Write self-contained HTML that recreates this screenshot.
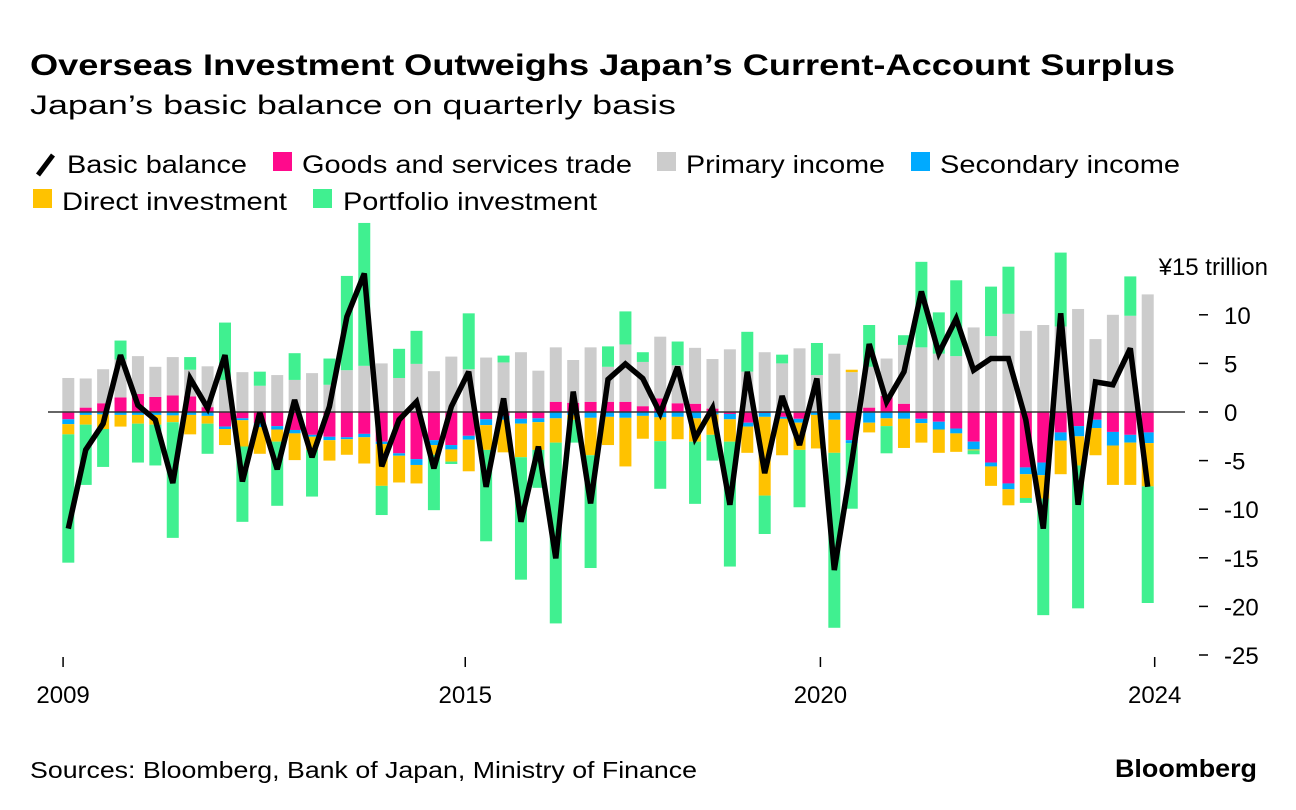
<!DOCTYPE html>
<html><head><meta charset="utf-8">
<style>
html,body{margin:0;padding:0;background:#fff;}
svg{display:block;font-family:"Liberation Sans",sans-serif;}
</style></head>
<body>
<svg id="chart" width="1296" height="810" viewBox="0 0 1296 810" xmlns="http://www.w3.org/2000/svg">
<text x="30" y="75" font-size="30" font-weight="bold" textLength="1145" lengthAdjust="spacingAndGlyphs">Overseas Investment Outweighs Japan’s Current-Account Surplus</text>
<text x="30" y="114" font-size="27" textLength="646" lengthAdjust="spacingAndGlyphs">Japan’s basic balance on quarterly basis</text>
<g font-size="25">
 <g><line x1="38" y1="175" x2="53" y2="155" stroke="#000" stroke-width="5"/><text x="67" y="173" textLength="180" lengthAdjust="spacingAndGlyphs">Basic balance</text></g>
 <g><rect x="273" y="152" width="19" height="19" fill="#ff0a8c"/><text x="302" y="173" textLength="330" lengthAdjust="spacingAndGlyphs">Goods and services trade</text></g>
 <g><rect x="657" y="152" width="19" height="19" fill="#cccccc"/><text x="686" y="173" textLength="199" lengthAdjust="spacingAndGlyphs">Primary income</text></g>
 <g><rect x="911" y="152" width="19" height="19" fill="#00aaff"/><text x="940" y="173" textLength="240" lengthAdjust="spacingAndGlyphs">Secondary income</text></g>
 <g><rect x="33" y="189" width="19" height="19" fill="#ffc200"/><text x="62" y="210" textLength="225" lengthAdjust="spacingAndGlyphs">Direct investment</text></g>
 <g><rect x="313" y="189" width="19" height="19" fill="#40f090"/><text x="343" y="210" textLength="254" lengthAdjust="spacingAndGlyphs">Portfolio investment</text></g>
</g>
<g id="bars"></g>
<g id="axes"></g>
<g id="lineg"></g>
<text x="30" y="778" font-size="23" textLength="667" lengthAdjust="spacingAndGlyphs">Sources: Bloomberg, Bank of Japan, Ministry of Finance</text>
<text x="1115" y="777" font-size="25" font-weight="bold" textLength="142" lengthAdjust="spacingAndGlyphs">Bloomberg</text>
</svg>
<script>
const goods = [-0.75,0.45,0.9,1.5,1.85,1.55,1.7,1.6,0.5,-1.5,-0.65,-1.15,-1.45,-1.85,-2.35,-2.55,-2.6,-2.25,-3.05,-4.25,-4.85,-2.9,-3.4,-2.45,-0.75,-0.4,-0.7,-0.65,1.05,0.95,1.05,1.05,1.05,0.6,1.4,0.9,0.85,0.35,-0.2,-1.1,-0.1,-0.5,-0.7,0,-0.05,-2.9,0.45,1.65,0.85,-0.7,-1.0,-1.7,-3.05,-5.2,-7.35,-5.7,-5.2,-2.1,-1.45,-0.8,-2.05,-2.35,-2.1];
const primary = [3.5,3.0,3.5,3.9,3.9,3.1,3.95,2.75,4.2,3.3,4.1,2.7,3.8,3.3,4.0,2.8,4.3,4.75,5.0,3.5,4.95,4.2,5.7,4.4,5.6,5.1,6.15,4.25,5.6,4.4,5.6,3.6,5.9,4.55,6.35,3.9,5.75,5.1,6.45,4.15,6.15,5.0,6.55,3.8,6.0,4.1,4.2,3.85,6.05,6.65,6.0,5.75,8.7,7.8,10.1,8.35,8.95,8.8,10.6,7.5,10.0,9.9,12.1];
const secondary = [-0.5,-0.3,-0.25,-0.3,-0.3,-0.3,-0.35,-0.3,-0.4,-0.25,-0.2,-0.4,-0.35,-0.35,-0.2,-0.35,-0.2,-0.35,-0.25,-0.25,-0.6,-0.5,-0.45,-0.4,-0.6,-0.4,-0.5,-0.4,-0.65,-0.3,-0.6,-0.5,-0.6,-0.4,-0.55,-0.5,-0.65,-0.25,-0.55,-0.4,-0.4,-0.2,-0.4,-0.3,-0.75,-0.3,-1.1,-0.65,-0.7,-0.45,-0.8,-0.5,-0.8,-0.4,-0.6,-0.7,-1.3,-0.85,-1.05,-0.85,-1.4,-0.8,-1.1];
const direct = [-1.05,-1.0,-1.5,-1.2,-0.9,-1.0,-0.7,-2.0,-0.8,-1.65,-2.7,-2.75,-1.25,-2.75,-1.35,-2.1,-1.6,-2.7,-4.3,-2.75,-1.9,-1.0,-1.25,-3.25,-2.55,-3.35,-3.45,-2.85,-2.5,-0.5,-3.85,-2.9,-5.0,-2.35,-2.45,-2.3,-2.4,-2.1,-2.3,-2.7,-8.1,-3.75,-2.8,-3.45,-3.4,0.25,-1.0,-0.8,-3.0,-2.0,-2.4,-1.9,-0.1,-2.0,-1.65,-2.45,-2.4,-3.45,-3.0,-2.8,-4.05,-4.35,-4.45];
const portfolio = [-13.2,-6.2,-3.9,1.95,-4.0,-4.2,-11.9,1.3,-3.1,5.9,-7.75,1.45,-6.6,2.75,-4.8,2.7,9.7,14.7,-3.0,3.0,3.4,-5.7,-0.25,5.75,-9.4,0.7,-12.6,-3.9,-18.6,-2.35,-11.6,2.1,3.4,1.0,-4.9,2.45,-6.4,-2.65,-12.85,4.1,-3.95,0.9,-5.9,3.3,-18.0,-6.75,4.3,-2.8,1.0,8.8,4.25,7.8,-0.4,5.1,4.85,-0.5,-12.0,7.6,-14.7,0,0,4.05,-12.0];
const basicBalance = [-12.0,-3.9,-1.2,5.85,0.7,-0.8,-7.3,3.45,0.4,5.85,-7.15,-0.05,-5.9,1.25,-4.65,0.55,9.8,14.25,-5.6,-0.8,1.05,-5.8,0.55,4.15,-7.7,1.4,-11.3,-3.55,-15.05,2.1,-9.4,3.35,4.95,3.45,-0.15,4.65,-2.7,0.4,-9.55,4.15,-6.3,1.65,-3.4,3.45,-16.25,-5.1,7.0,1.05,4.15,12.4,6.05,9.6,4.3,5.5,5.5,-0.8,-12.0,10.15,-9.55,3.1,2.8,6.55,-7.7];
const yTicks = [-25,-20,-15,-10,-5,0,5,10,15];
const xTickLabels = ["2009","2015","2020","2024"];
const xTickIdx = [-0.3,22.8,43.2,62.4];

const NS="http://www.w3.org/2000/svg";
const X0=68.3, STEP=17.41, BARW=12;
const Y0=412, PXU=9.72;
const xs = i => X0 + STEP*i;
const ys = v => Y0 - v*PXU;
function mk(tag, attrs, parent){const e=document.createElementNS(NS,tag);for(const k in attrs)e.setAttribute(k,attrs[k]);parent.appendChild(e);return e;}

const series=[["goods",goods,"#ff0a8c"],["primary",primary,"#cccccc"],["secondary",secondary,"#00aaff"],["direct",direct,"#ffc200"],["portfolio",portfolio,"#40f090"]];
const bars=document.getElementById('bars');
for(let i=0;i<goods.length;i++){
  let pos=0,neg=0;
  for(const [name,arr,col] of series){
    const v=arr[i]; if(!v) continue;
    let a,b;
    if(v>0){a=pos;b=pos+v;pos=b;} else {a=neg;b=neg+v;neg=b;}
    const r=mk('rect',{x:xs(i)-BARW/2,y:Math.min(ys(a),ys(b)),width:BARW,height:Math.abs(ys(a)-ys(b)),fill:col},bars);
    
    
  }
}
const axes=document.getElementById('axes');
const zl=mk('line',{x1:48,x2:1185,y1:ys(0),y2:ys(0),stroke:"#333",'stroke-width':1.5},axes);


yTicks.forEach(t=>{
  const y=ys(t);
  if(t!==15){
    const d=mk('line',{x1:1199,x2:1208,y1:y,y2:y,stroke:"#000",'stroke-width':1.5},axes);
    
    
  }
  const tx=mk('text',{x:t===15?1268:1224,y:y+9,'font-size':24,'text-anchor':t===15?'end':'start'},axes);
  tx.textContent = t===15 ? '¥15 trillion' : String(t);
  
  
});
xTickLabels.forEach((lab,k)=>{
  const x=xs(xTickIdx[k]);
  const m=mk('line',{x1:x,x2:x,y1:657,y2:667,stroke:"#000",'stroke-width':1.5},axes);
  
  
  const tx=mk('text',{x:x,y:703,'font-size':24,'text-anchor':'middle'},axes);
  tx.textContent=lab;
  
  
});
const lg=document.getElementById('lineg');
const pts=basicBalance.map((v,i)=>xs(i).toFixed(1)+','+ys(v).toFixed(1)).join(' ');
const pl=mk('polyline',{points:pts,fill:'none',stroke:'#000','stroke-width':5.5,'stroke-linejoin':'miter','stroke-miterlimit':3},lg);


</script>
</body></html>
